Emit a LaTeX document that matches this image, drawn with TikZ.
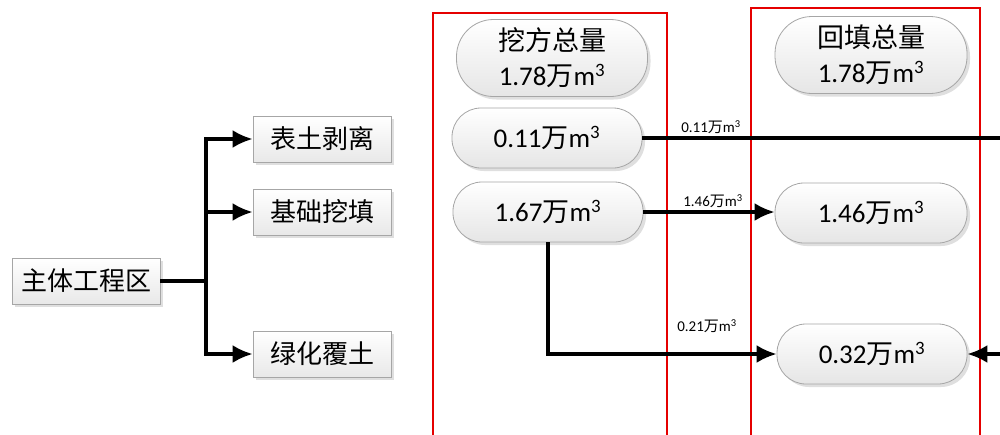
\documentclass[tikz,border=0pt]{standalone}
\usepackage{fontspec}
\setmainfont{Carlito}
\newfontfamily\cjk{Noto Sans CJK SC}
\usetikzlibrary{arrows.meta,shadows}
\newcommand{\wan}{{\cjk 万}}
\newcommand{\mcube}{m\textsuperscript{3}}
\begin{document}
\begin{tikzpicture}[x=1pt,y=-1pt,
  treebox/.style={draw=gray!70, line width=0.8pt, top color=white, bottom color=gray!18,
    minimum width=138pt, minimum height=46pt, inner sep=0pt,
    drop shadow={opacity=0.25, shadow xshift=3pt, shadow yshift=-3pt, fill=gray},
    font=\cjk\fontsize{26}{30}\selectfont},
  pill/.style={draw=gray!70, line width=0.8pt, top color=white, bottom color=gray!20,
    rounded corners=29pt, minimum width=190pt, minimum height=60pt, inner sep=0pt,
    drop shadow={opacity=0.25, shadow xshift=3pt, shadow yshift=-3pt, fill=gray},
    font=\fontsize{27}{32}\selectfont, align=center},
  bigpill/.style={pill, rounded corners=37pt, minimum height=77pt, minimum width=191pt},
  conn/.style={line width=3.2pt, black},
  arr/.style={conn, -{Latex[length=20pt,width=18pt]}},
  redbox/.style={draw=red!90!black, line width=2pt},
  flowlab/.style={font=\fontsize{15}{17}\selectfont, inner sep=0pt}
]
\clip (0,0) rectangle (1000,434);
\fill[white] (0,0) rectangle (1000,434);

% red frames
\draw[redbox] (433,445) -- (433,13) -- (667,13) -- (667,445);
\draw[redbox] (751,445) -- (751,8) -- (980,8) -- (980,445);

% tree
\node[treebox, minimum width=148pt] (main) at (86,281) {主体工程区};
\node[treebox] (bt) at (322,139) {表土剥离};
\node[treebox] (jc) at (322,212) {基础挖填};
\node[treebox] (lh) at (322,354) {绿化覆土};
\coordinate (tr) at (206,281);
\draw[conn] (main.east) -- (tr);
\draw[arr] (tr) |- (bt.west);
\draw[arr] (tr) |- (jc.west);
\draw[arr] (tr) |- (lh.west);

% excavation column
\node[bigpill] (wf) at (552,58) {{\cjk 挖方总量}\\[3pt]1.78\wan\mcube};
\node[pill] (a011) at (547,138) {0.11\wan\mcube};
\node[pill] (a167) at (548,212) {1.67\wan\mcube};

% fill column
\node[bigpill, minimum width=192pt] (ht) at (871,55) {{\cjk 回填总量}\\[3pt]1.78\wan\mcube};
\node[pill, minimum width=192pt] (b146) at (871,213) {1.46\wan\mcube};
\node[pill] (b032) at (872,354) {0.32\wan\mcube};

% flows
\coordinate (e011) at (1002,138);
\coordinate (in032) at (1002,354);
\draw[conn] (a011.east) -- (a011.east -| e011);
\draw[arr] (a167.east) -- (a167.east -| b146.west);
\draw[arr] (a167.south) |- (b032.west);
\draw[arr] (in032) -- (b032.east);

\node[flowlab] (l011) at (711,127) {0.11\wan\mcube};
\node[flowlab] (l146) at (713,201) {1.46\wan\mcube};
\node[flowlab] (l021) at (707,326) {0.21\wan\mcube};
\end{tikzpicture}
\end{document}
